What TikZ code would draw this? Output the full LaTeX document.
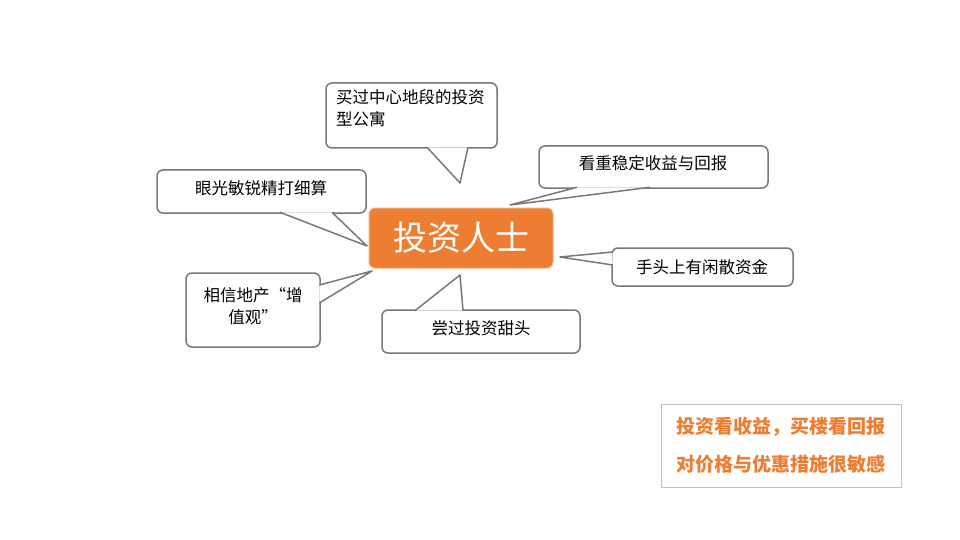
\documentclass[tikz,border=0pt]{standalone}
\usepackage{fontspec}
\setmainfont{Noto Sans CJK SC}
\definecolor{hubfill}{RGB}{237,125,49}
\definecolor{boxline}{RGB}{120,120,120}
\tikzset{
  callout/.style={draw=boxline, line width=1.5pt, rounded corners=6pt, fill=white},
  calltext/.style={font=\fontsize{16.5}{22}\selectfont, align=left},
}
\newcommand{\tail}[3]{
\fill[white](#1)--(#3)--(#2)--cycle;
\draw[boxline, line width=1.5pt, line join=round](#1)--(#3)--(#2);
}
\begin{document}
\begin{tikzpicture}[x=1pt,y=-1pt]
\useasboundingbox (0,0) rectangle (960,540);

% speech boxes
\draw[callout] (326,83) rectangle (497,148);
\draw[callout] (539,146) rectangle (768,188);
\draw[callout] (157,170) rectangle (366,213);
\draw[callout] (186,273) rectangle (320,347);
\draw[callout] (382,310) rectangle (580,353);
\draw[callout] (612,248) rectangle (793,286);

% tails
\coordinate (t1a) at (427,147.3); \coordinate (t1b) at (468,147.3); \coordinate (t1c) at (460,183);
\coordinate (t2a) at (577,187.3); \coordinate (t2b) at (650,187.3); \coordinate (t2c) at (510,205);
\coordinate (t3a) at (280,212.3); \coordinate (t3b) at (332,212.3); \coordinate (t3c) at (367,246);
\coordinate (t4a) at (319.3,285); \coordinate (t4b) at (319.3,303); \coordinate (t4c) at (372,271);
\coordinate (t5a) at (415,310.7); \coordinate (t5b) at (463,310.7); \coordinate (t5c) at (460,275);
\coordinate (t6a) at (612.7,252); \coordinate (t6b) at (612.7,265); \coordinate (t6c) at (560,257);
\tail{t1a}{t1b}{t1c}
\tail{t2a}{t2b}{t2c}
\tail{t3a}{t3b}{t3c}
\tail{t4a}{t4b}{t4c}
\tail{t5a}{t5b}{t5c}
\tail{t6a}{t6b}{t6c}

% texts
\node[calltext, anchor=north west, inner sep=0pt] (apt) at (336,89) {买过中心地段的投资\\型公寓};
\node[calltext] (stable) at (653,163) {看重稳定收益与回报};
\node[calltext] (sharp) at (261,188) {眼光敏锐精打细算};
\node[calltext, align=center] (belief) at (253,306) {相信地产“增\\值观”};
\node[calltext] (taste) at (481,328) {尝过投资甜头};
\node[calltext] (cash) at (702,267) {手头上有闲散资金};

% hub
\node[fill=hubfill, draw=hubfill!60!white, line width=1pt, rounded corners=6pt,
  minimum width=184pt, minimum height=60pt, text=white,
  font=\fontsize{34}{38}\selectfont] (hub) at (461,238) {投资人士};

% summary
\node[draw=black!25, line width=1pt, minimum width=240pt, minimum height=83pt,
  align=left, text=hubfill, font=\bfseries\fontsize{19}{38}\selectfont] (sum) at (781,445.5)
  {投资看收益，买楼看回报\\对价格与优惠措施很敏感};
\end{tikzpicture}
\end{document}
